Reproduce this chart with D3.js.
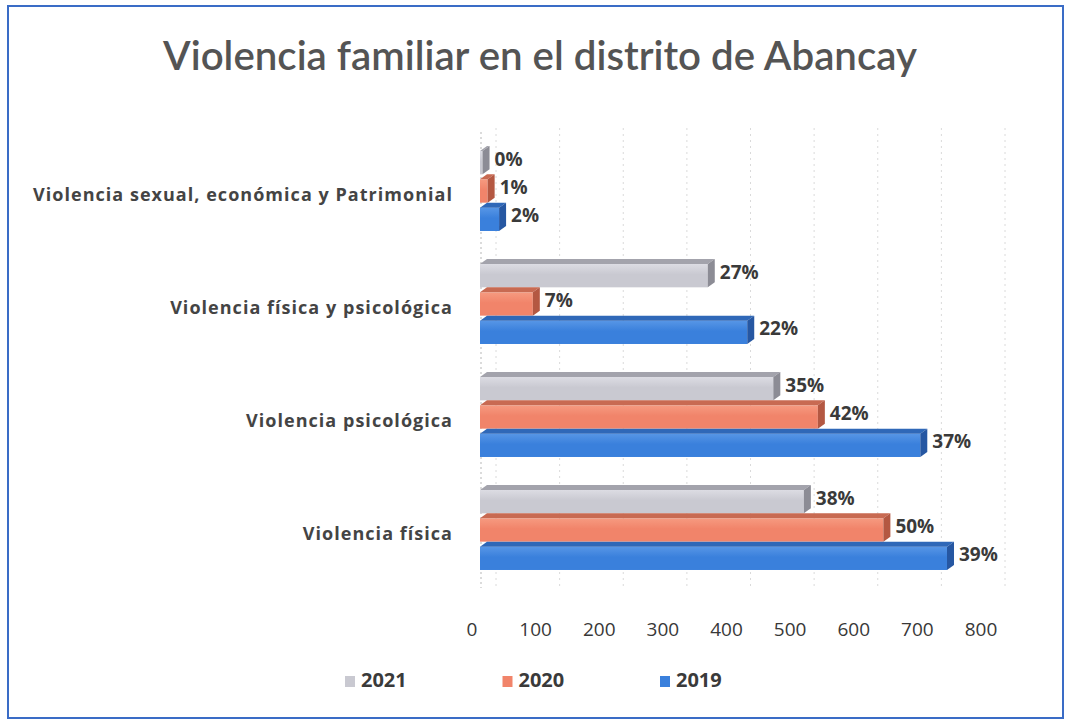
<!DOCTYPE html>
<html>
<head>
<meta charset="utf-8">
<script src="https://cdn.jsdelivr.net/npm/d3@7"></script>
<style>
  html, body { margin: 0; padding: 0; background: #fff; }
  svg { display: block; font-family: "Open Sans", Lato, sans-serif; }
</style>
</head>
<body>
<svg id="chart" width="1069" height="721"></svg>
<script>
// ---- data ----
const title = "Violencia familiar en el distrito de Abancay";
const categories = [
  "Violencia sexual, económica y Patrimonial",
  "Violencia física y psicológica",
  "Violencia psicológica",
  "Violencia física"
];
const seriesNames = ["2021", "2020", "2019"];
const values2021 = [4, 358, 461, 509];
const values2020 = [12, 83, 531, 634];
const values2019 = [30, 420, 692, 734];
const xTicks = [0, 100, 200, 300, 400, 500, 600, 700, 800];

const seriesValues = { "2021": values2021, "2020": values2020, "2019": values2019 };
const totals = {};
seriesNames.forEach(s => totals[s] = d3.sum(seriesValues[s]));

const colors = {
  "2021": { front: "#c9c9d1", light: "#dcdce3", top: "#a3a3ac", side: "#8c8c95" },
  "2020": { front: "#f1846a", light: "#f69a80", top: "#c86a52", side: "#b45842" },
  "2019": { front: "#3a80dc", light: "#5796e6", top: "#2f68b8", side: "#2657a2" }
};

const svg = d3.select("#chart");

// frame
svg.append("rect").attr("x", 8).attr("y", 6).attr("width", 1055).attr("height", 712)
  .attr("fill", "#fff").attr("stroke", "#3a6cc6").attr("stroke-width", 2);

// title
const t = svg.append("text").attr("x", 540).attr("y", 70).attr("text-anchor", "middle")
  .attr("font-family", "Lato, sans-serif")
  .attr("fill", "#545454").attr("font-size", 36).attr("font-weight", 600).text(title);
const tw = t.node().getComputedTextLength();
t.attr("font-size", 36 * 754 / tw);

// scales
const x = d3.scaleLinear().domain([0, 800]).range([480, 989]);
const y = d3.scaleBand().domain(categories).range([132, 584]).paddingInner(0.248).paddingOuter(0.124);
const ys = d3.scaleBand().domain(seriesNames).range([0, y.bandwidth()]);
const dx = 7, dy = 5;

// defs gradients
const defs = svg.append("defs");
seriesNames.forEach(s => {
  const g = defs.append("linearGradient").attr("id", "g" + s).attr("x1", 0).attr("x2", 0).attr("y1", 0).attr("y2", 1);
  g.append("stop").attr("offset", "0%").attr("stop-color", colors[s].light);
  g.append("stop").attr("offset", "45%").attr("stop-color", colors[s].front);
  g.append("stop").attr("offset", "100%").attr("stop-color", colors[s].front);
});

// gridlines (back wall, faint)
svg.append("g").selectAll("line").data(xTicks).join("line")
  .attr("x1", d => x(d) + 16).attr("x2", d => x(d) + 16)
  .attr("y1", 128).attr("y2", 588)
  .attr("stroke", "#dadada").attr("stroke-width", 1).attr("stroke-dasharray", "2,4");

// left wall
svg.append("line").attr("x1", x(0) + 1).attr("x2", x(0) + 1).attr("y1", 132).attr("y2", 588)
  .attr("stroke", "#d0d0d0").attr("stroke-width", 1.5).attr("stroke-dasharray", "2,3");

// bars
const bars = [];
categories.forEach((c, i) => {
  seriesNames.forEach(s => {
    bars.push({ cat: c, series: s, value: seriesValues[s][i] });
  });
});

const gBars = svg.append("g");
bars.forEach(b => {
  const yt = y(b.cat) + ys(b.series);
  const yb = yt + ys.bandwidth();
  const x0 = x(0), x1 = x(b.value);
  const col = colors[b.series];
  const g = gBars.append("g");
  g.append("rect").attr("x", x0).attr("y", yt + dy).attr("width", x1 - x0).attr("height", yb - yt - dy)
    .attr("fill", `url(#g${b.series})`);
  g.append("polygon").attr("points", [[x0, yt + dy], [x1, yt + dy], [x1 + dx, yt], [x0 + dx, yt]].map(p => p.join(",")).join(" "))
    .attr("fill", col.top);
  g.append("polygon").attr("points", [[x1, yt + dy], [x1 + dx, yt], [x1 + dx, yb - dy], [x1, yb]].map(p => p.join(",")).join(" "))
    .attr("fill", col.side);
  const pct = d3.format(".0%")(b.value / totals[b.series]);
  g.append("text").attr("x", x1 + dx + 5).attr("y", yt + dy + (yb - yt - dy) / 2 - 2)
    .attr("dominant-baseline", "middle").attr("font-size", 19).attr("font-weight", 700)
    .attr("fill", "#3a3a3a").text(pct);
});

// category labels
const catText = svg.append("g").selectAll("text").data(categories).join("text")
  .attr("x", 453).attr("y", d => y(d) + y.bandwidth() / 2 + 8)
  .attr("text-anchor", "end").attr("dominant-baseline", "middle")
  .attr("font-size", 18).attr("font-weight", 700).attr("fill", "#444").text(d => d);
const longest = catText.filter((d, i) => i === 0).node();
const lw = longest.getComputedTextLength();
const ls = Math.max(-1, Math.min(2, (420 - lw) / categories[0].length));
catText.attr("letter-spacing", ls);

// x tick labels
svg.append("g").selectAll("text").data(xTicks).join("text")
  .attr("x", d => x(d) - 8).attr("y", 631)
  .attr("text-anchor", "middle").attr("dominant-baseline", "middle")
  .attr("font-size", 19).attr("font-weight", 500).attr("fill", "#383838").text(d => d);

// legend
const legendX = d3.scalePoint().domain(seriesNames).range([345, 660]);
const lg = svg.append("g").selectAll("g").data(seriesNames).join("g")
  .attr("transform", d => `translate(${legendX(d)},681)`);
lg.append("rect").attr("x", 0).attr("y", -5).attr("width", 10).attr("height", 11)
  .attr("fill", d => colors[d].front);
lg.append("text").attr("x", 16).attr("y", 1).attr("dominant-baseline", "middle")
  .attr("font-size", 20).attr("font-weight", 700).attr("fill", "#3a3a3a").text(d => d);
</script>
</body>
</html>
